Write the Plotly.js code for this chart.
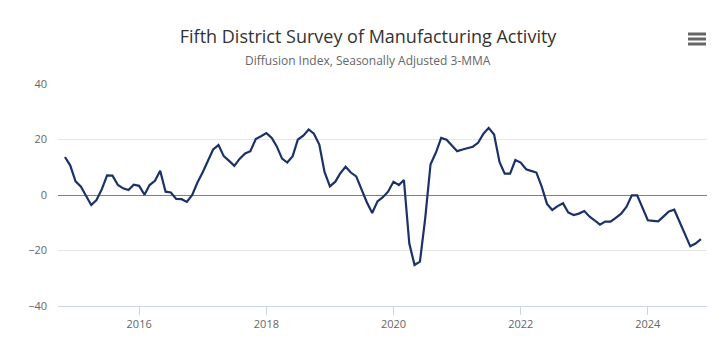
<!DOCTYPE html>
<html>
<head>
<meta charset="utf-8">
<script src="https://cdn.plot.ly/plotly-3.0.1.min.js"></script>
<style>html,body{margin:0;padding:0;background:#fff;}#chart{width:726px;height:339px;}</style>
</head>
<body>
<div id="chart"></div>
<script>
// First observation month (monthly series, Nov 2014 .. Nov 2024)
const startYear = 2014;
const startMonth = 11;
const indexValues = [
  13.7, 10.7, 4.9, 3.0, -0.2, -3.6, -1.8, 2.1, 7.1, 7.0,
  3.6, 2.4, 1.8, 3.7, 3.3, 0.1, 3.6, 5.1, 8.7, 1.2,
  0.9, -1.4, -1.5, -2.5, 0.0, 4.5, 8.3, 12.6, 16.4, 18.0,
  14.0, 12.3, 10.5, 13.1, 15.0, 15.8, 20.2, 21.2, 22.3, 20.6,
  17.6, 13.1, 11.7, 14.0, 20.0, 21.4, 23.6, 22.1, 18.2, 8.3,
  3.1, 4.8, 7.8, 10.2, 8.1, 6.7, 1.8, -2.6, -6.5, -2.3,
  -0.8, 1.2, 4.8, 3.6, 5.4, -17.5, -25.2, -24.0, -8.6, 11.1,
  15.3, 20.6, 19.9, 17.9, 15.8, 16.4, 17.0, 17.4, 18.8, 22.1,
  24.2, 21.8, 11.9, 7.7, 7.7, 12.6, 11.7, 9.3, 8.7, 8.1,
  3.1, -3.2, -5.4, -4.0, -3.0, -6.3, -7.2, -6.7, -5.8, -7.8,
  -9.1, -10.7, -9.6, -9.6, -8.2, -6.7, -4.2, -0.1, -0.1, -4.6,
  -9.1, -9.3, -9.5, -7.7, -5.9, -5.3, -9.6, -14.7, -18.5, -17.5,
  -15.9
];
const xTickVals = ['2016-01-01', '2018-01-01', '2020-01-01', '2022-01-01', '2024-01-01'];
const xTickText = ['2016', '2018', '2020', '2022', '2024'];
const yTickVals = [-40, -20, 0, 20, 40];

const months = indexValues.map((_, i) => {
  const m0 = startMonth - 1 + i;
  const y = startYear + Math.floor(m0 / 12);
  const m = (m0 % 12) + 1;
  return y + '-' + String(m).padStart(2, '0') + '-01';
});

const trace = {
  x: months,
  y: indexValues,
  type: 'scatter',
  mode: 'lines',
  line: {color: '#1b3168', width: 2.2},
  hoverinfo: 'x+y'
};

const layout = {
  width: 726,
  height: 339,
  margin: {l: 58, r: 19, t: 84, b: 33},
  paper_bgcolor: '#ffffff',
  plot_bgcolor: '#ffffff',
  showlegend: false,
  font: {family: '"Open Sans", sans-serif', color: '#666666', size: 11},
  title: {
    text: 'Fifth District Survey of Manufacturing Activity',
    font: {family: '"Open Sans", sans-serif', size: 18, color: '#333333'},
    x: 0.507, xanchor: 'center', xref: 'container',
    y: 1 - 37 / 339, yanchor: 'middle', yref: 'container'
  },
  annotations: [{
    text: 'Diffusion Index, Seasonally Adjusted 3-MMA',
    xref: 'paper', yref: 'paper',
    x: (368 - 58) / 649, y: (306 - 61) / 222,
    xanchor: 'center', yanchor: 'middle',
    showarrow: false,
    font: {family: '"Open Sans", sans-serif', size: 12, color: '#666666'}
  }],
  shapes: [34, 39, 44].map(py => ({
    type: 'line', xref: 'paper', yref: 'paper',
    x0: (688 - 58) / 649, x1: (706 - 58) / 649,
    y0: (306 - py) / 222, y1: (306 - py) / 222,
    line: {color: '#666666', width: 3}
  })),
  xaxis: {
    type: 'date',
    range: ['2014-09-22', '2024-12-06'],
    tickvals: xTickVals,
    ticktext: xTickText,
    showgrid: false,
    showline: true,
    linecolor: '#ccd6eb',
    linewidth: 1,
    ticks: 'outside',
    ticklen: 8,
    tickcolor: '#ccd6eb',
    tickfont: {size: 11, color: '#666666'},
    zeroline: false,
    fixedrange: true
  },
  yaxis: {
    range: [-40, 40],
    tickvals: yTickVals,
    showgrid: true,
    gridcolor: '#e6e6e6',
    gridwidth: 1,
    zeroline: true,
    zerolinecolor: '#808080',
    zerolinewidth: 1,
    showline: false,
    ticks: '',
    ticklabelstandoff: 10,
    tickfont: {size: 11, color: '#666666'},
    fixedrange: true
  }
};

Plotly.newPlot('chart', [trace], layout, {displayModeBar: false, staticPlot: true});
</script>
</body>
</html>
